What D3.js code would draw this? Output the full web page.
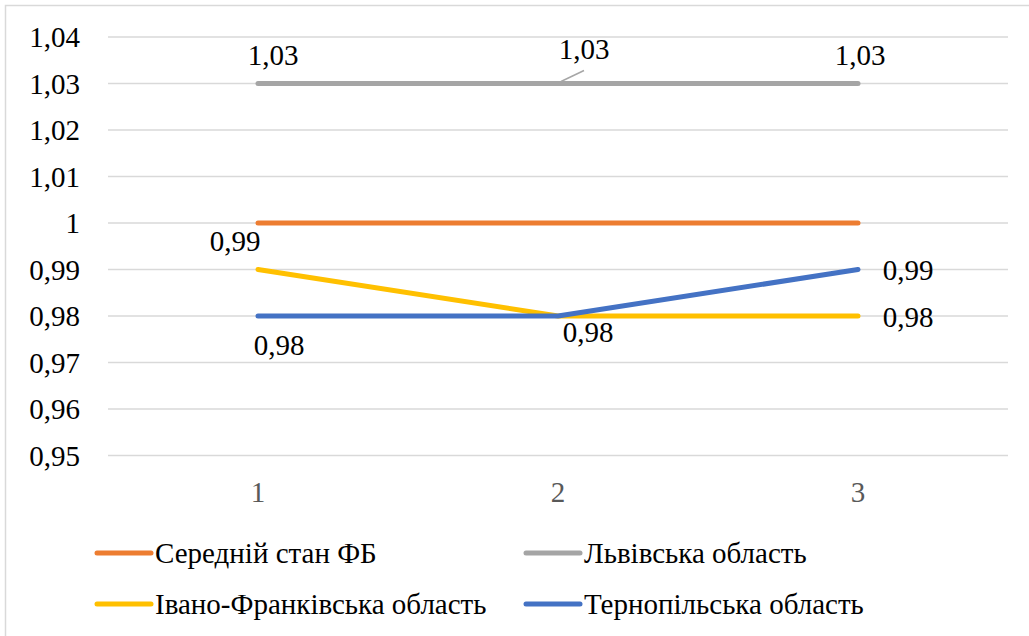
<!DOCTYPE html>
<html><head><meta charset="utf-8">
<script src="https://cdn.jsdelivr.net/npm/d3@7"></script>
<style>body{margin:0;background:#fff}svg{display:block}</style>
</head><body><svg id="c" width="1029" height="636"></svg>
<script>
const categories = [1, 2, 3];
const yTicks = [0.95, 0.96, 0.97, 0.98, 0.99, 1, 1.01, 1.02, 1.03, 1.04];
const seriesNames = ["Середній стан ФБ", "Львівська область", "Івано-Франківська область", "Тернопільська область"];
const avgFB = [1, 1, 1];
const lviv = [1.03, 1.03, 1.03];
const ivanoFrankivsk = [0.99, 0.98, 0.98];
const ternopil = [0.98, 0.98, 0.99];
const seriesValues = [avgFB, lviv, ivanoFrankivsk, ternopil];
const colors = ["#ed7d31", "#a5a5a5", "#ffc000", "#4472c4"];
// which points carry a data label (series index, point index) and their placement offsets
const labelSpecs = [
  {s:1, i:0, dx:15, dy:-28},
  {s:1, i:1, dx:26, dy:-34, leader:true},
  {s:1, i:2, dx:2, dy:-28},
  {s:2, i:0, dx:-23, dy:-28},
  {s:2, i:2, dx:50, dy:1.5},
  {s:3, i:0, dx:21, dy:29.5},
  {s:3, i:1, dx:30, dy:16.5},
  {s:3, i:2, dx:50, dy:1}
];
const fmt = v => String(v).replace(".", ",");
const FONT = "Liberation Serif, DejaVu Serif";

const svg = d3.select("#c");
svg.append("rect").attr("x",5.5).attr("y",5.5).attr("width",1100).attr("height",700)
  .attr("fill","#fff").attr("stroke","#d9d9d9").attr("stroke-width",1.5);

const x = d3.scaleBand().domain(categories).range([108, 1008]).padding(0);
const cx = d => x(d) + x.bandwidth()/2;
const y = d3.scaleLinear().domain([0.95, 1.04]).range([455.5, 37]);

// gridlines
svg.append("g").selectAll("line").data(yTicks).join("line")
  .attr("x1",108).attr("x2",1008).attr("y1",d=>y(d)).attr("y2",d=>y(d))
  .attr("stroke","#d9d9d9").attr("stroke-width",1.5);

// y axis labels
const yAxis = d3.axisLeft(y).tickValues(yTicks).tickSize(0).tickPadding(0).tickFormat(fmt);
const gy = svg.append("g").attr("transform","translate(80,0)").call(yAxis);
gy.attr("font-family",FONT).attr("font-size",29);
gy.select(".domain").remove();
gy.selectAll("text").attr("fill","#000").attr("dy","0.33em");

// x axis labels
const xAxis = d3.axisBottom(x).tickSize(0).tickPadding(0);
const gx = svg.append("g").attr("transform","translate(0,482)").call(xAxis);
gx.attr("font-family",FONT).attr("font-size",29);
gx.select(".domain").remove();
gx.selectAll("text").attr("fill","#595959").attr("dy","0.7em");

// lines
const line = d3.line().x((d,i)=>cx(categories[i])).y(d=>y(d));
seriesValues.forEach((vals, s) => {
  svg.append("path").datum(vals).attr("d", line).attr("fill","none")
    .attr("stroke", colors[s]).attr("stroke-width",5).attr("stroke-linecap","round").attr("stroke-linejoin","round");
});

// data labels
labelSpecs.forEach(l => {
  const v = seriesValues[l.s][l.i];
  const px = cx(categories[l.i]), py = y(v);
  if (l.leader) {
    svg.append("line").attr("x1",px+3).attr("y1",py-2).attr("x2",px+26).attr("y2",py-13)
      .attr("stroke","#a6a6a6").attr("stroke-width",1.5);
  }
  svg.append("text").attr("x",px+l.dx).attr("y",py+l.dy).attr("text-anchor","middle")
    .attr("dy","0.33em").attr("font-size",29).attr("font-family",FONT).attr("fill","#000").text(fmt(v));
});

// legend
const legendPos = [[97,553],[526,553],[97,604],[526,604]];
seriesNames.forEach((n, s) => {
  const [lx, ly] = legendPos[s];
  svg.append("line").attr("x1",lx).attr("x2",lx+54).attr("y1",ly).attr("y2",ly)
    .attr("stroke",colors[s]).attr("stroke-width",5).attr("stroke-linecap","round");
  svg.append("text").attr("x",lx+58).attr("y",ly).attr("dy","0.33em").attr("font-size",29)
    .attr("font-family",FONT).attr("fill","#000").text(n);
});
</script></body></html>
